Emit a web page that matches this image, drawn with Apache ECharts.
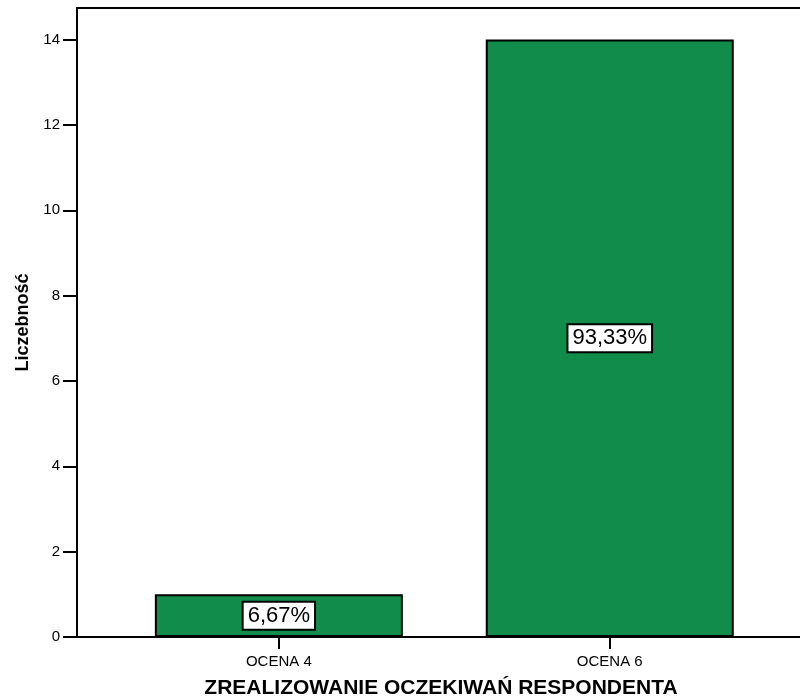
<!DOCTYPE html>
<html>
<head>
<meta charset="utf-8">
<script src="https://cdn.jsdelivr.net/npm/echarts@6/dist/echarts.min.js"></script>
<style>
  html, body { margin: 0; padding: 0; background: #fff; }
  #chart { width: 800px; height: 699px; }
</style>
</head>
<body>
<div id="chart"></div>
<script>
// dane z wykresu
var categories = ['OCENA 4', 'OCENA 6'];
var counts = [1, 14];
var percents = ['6,67%', '93,33%'];
var yTicks = [0, 2, 4, 6, 8, 10, 12, 14];

var chart = echarts.init(document.getElementById('chart'));

var barData = counts.map(function (v, i) {
  return { value: [i, v], label: { formatter: percents[i] } };
});

var font = 'Liberation Sans, Arial';

var option = {
  animation: false,
  backgroundColor: '#fff',
  grid: {
    left: 77, right: -5, top: 8, bottom: 62,
    outerBoundsMode: 'none',
    containLabel: false,
    show: true, borderColor: '#000', borderWidth: 2
  },
  xAxis: {
    type: 'value',
    min: -0.61,
    max: 1.59,
    splitLine: { show: false },
    axisLine: { show: true, onZero: false, lineStyle: { color: '#000', width: 2 } },
    axisTick: { show: true, length: 12, customValues: [0, 1], lineStyle: { color: '#000', width: 2 } },
    axisLabel: {
      customValues: [0, 1],
      color: '#000', fontSize: 15, fontFamily: font, margin: 17,
      formatter: function (v) { return categories[Math.round(v)]; }
    },
    name: 'ZREALIZOWANIE OCZEKIWAŃ RESPONDENTA',
    nameLocation: 'middle',
    nameGap: 41,
    nameTextStyle: { color: '#000', fontSize: 21, fontWeight: 'bold', fontFamily: font }
  },
  yAxis: {
    type: 'value',
    min: 0,
    max: 14.74,
    interval: 2,
    splitLine: { show: false },
    axisLine: { show: true, onZero: false, lineStyle: { color: '#000', width: 2 } },
    axisTick: { show: true, length: 14, customValues: yTicks, lineStyle: { color: '#000', width: 2 } },
    axisLabel: {
      customValues: yTicks,
      color: '#000', fontSize: 15, fontFamily: font, margin: 17
    },
    name: 'Liczebność',
    nameLocation: 'middle',
    nameGap: 45,
    nameTextStyle: { color: '#000', fontSize: 18, fontWeight: 'bold', fontFamily: font }
  },
  series: [{
    type: 'bar',
    barWidth: 248,
    data: barData,
    itemStyle: { color: '#128c4a', borderColor: '#000', borderWidth: 2 },
    label: {
      show: true,
      position: 'inside',
      color: '#000',
      fontSize: 22,
      fontFamily: font,
      backgroundColor: '#fff',
      borderColor: '#000',
      borderWidth: 2,
      padding: [3, 4, 1, 4]
    }
  }]
};

chart.setOption(option);
</script>
</body>
</html>
